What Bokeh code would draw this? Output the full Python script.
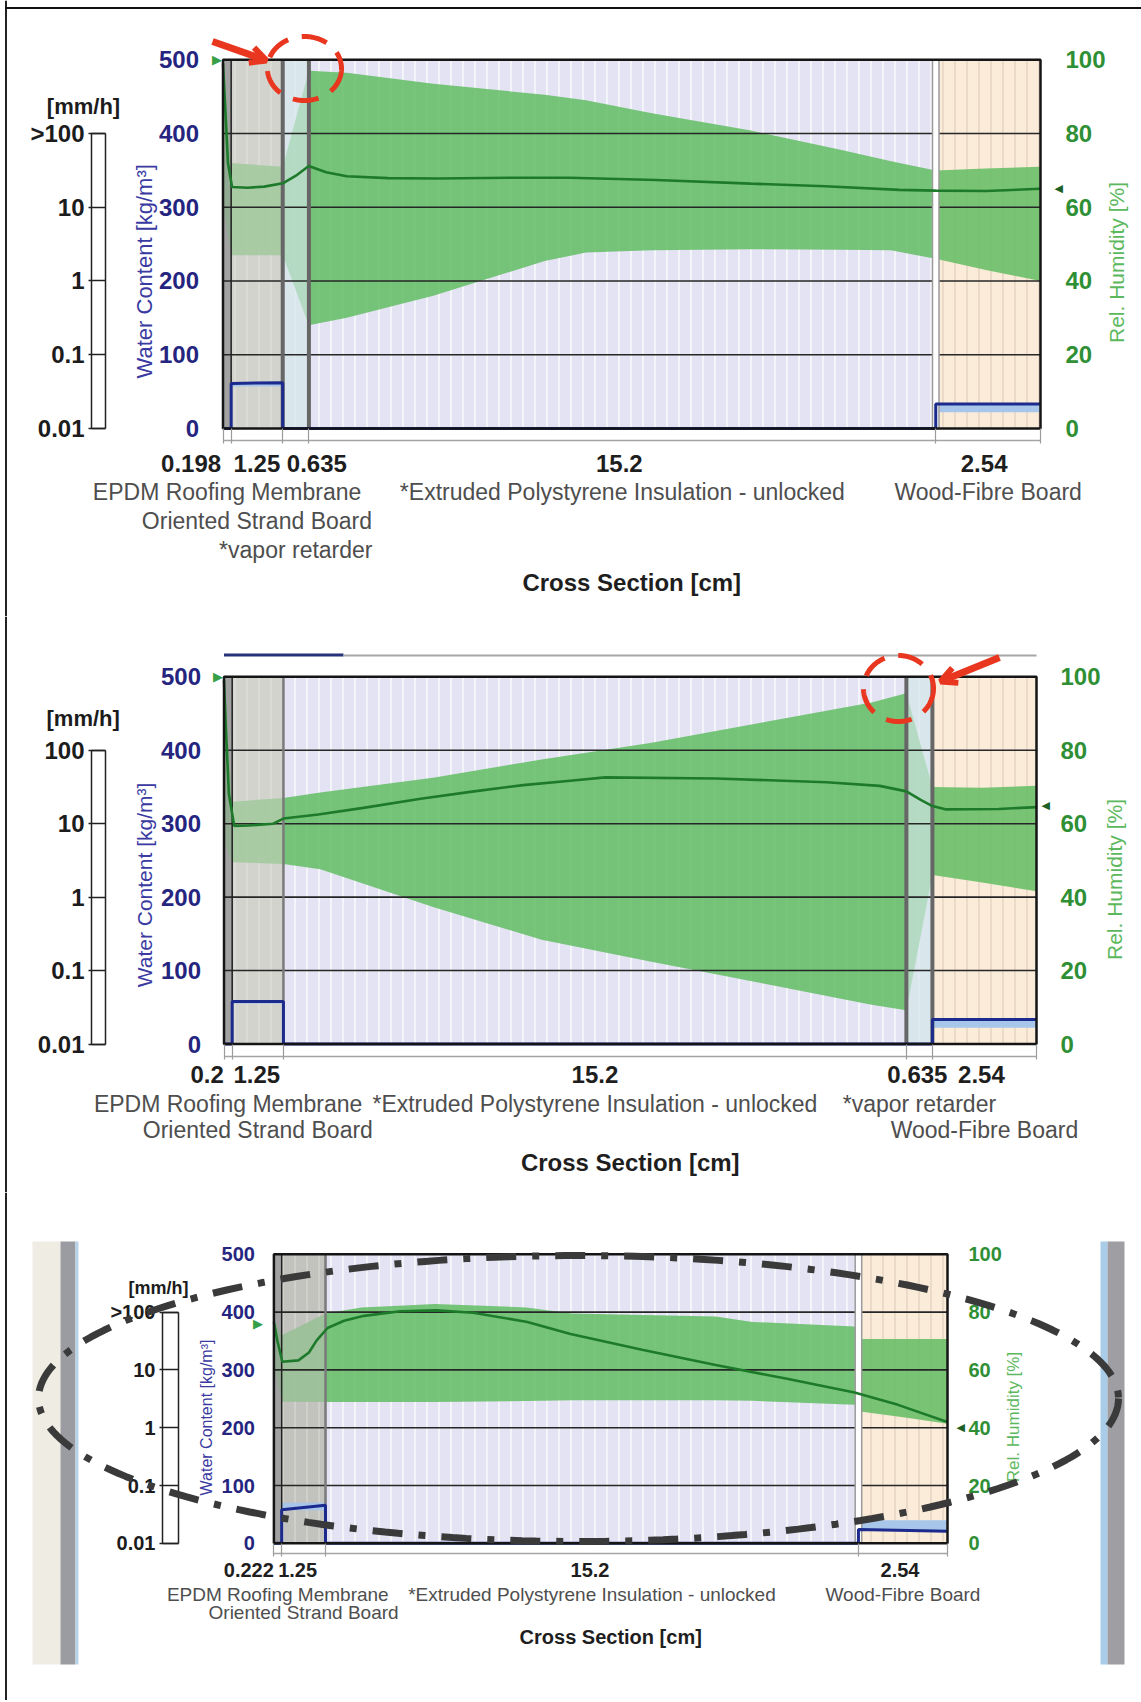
import numpy as np
from bokeh.plotting import figure
from bokeh.layouts import column
from bokeh.models import (Range1d, LinearAxis, LogAxis, LogScale, FixedTicker, Label,
                          Arrow, OpenHead, PolyAnnotation, BoxAnnotation, ColumnDataSource)
from bokeh.core.properties import field
from bokeh.embed import file_html
from bokeh.resources import INLINE

FONT = "Liberation Sans"
SYM_FONT = "DejaVu Sans"

# ---------------- shared axis ticks ----------------
wc_ticks = [0, 100, 200, 300, 400, 500]
rh_ticks = [0, 20, 40, 60, 80, 100]
rain_ticks = [0.01, 0.1, 1, 10, 100]

# ---------------- chart 1 data ----------------
c1_kinds = ["epdm", "osb", "vr", "xps", "wf"]
c1_names = ["EPDM Roofing Membrane", "Oriented Strand Board", "*vapor retarder",
            "*Extruded Polystyrene Insulation - unlocked", "Wood-Fibre Board"]
c1_thick = [0.198, 1.25, 0.635, 15.2, 2.54]
c1_thick_lbl = ["0.198", "1.25", "0.635", "15.2", "2.54"]
c1_rain_lbl = ["0.01", "0.1", "1", "10", ">100"]
c1_rh_x = [0.0, 0.05, 0.12, 0.22, 0.6, 1.0, 1.45, 1.8, 2.08, 2.5, 3.0, 4.0, 5.2, 7.0, 8.4,
           10.5, 12.8, 14.6, 16.4, 17.28, 18.5, 19.82]
c1_rh_mean = [99, 88, 72, 65.5, 65.3, 65.6, 66.5, 68.8, 71.2, 69.5, 68.4, 67.9, 67.8, 68.0, 68.0,
              67.4, 66.4, 65.7, 64.7, 64.5, 64.4, 65.0]
c1_band_x = [0.0, 0.2, 1.45, 2.08, 3.0, 5.1, 7.8, 8.8, 10.4, 12.8, 15.0, 16.2, 17.28, 18.5, 19.82]
c1_band_hi = [100, 72, 71, 97, 96.5, 93.5, 90.5, 89, 85.5, 80.8, 75.5, 72.5, 70, 70.5, 71]
c1_band_lo = [60, 47, 47, 28, 30, 36, 45.4, 47.7, 48.3, 48.6, 48.5, 48.3, 46, 43, 40]
c1_wc_start = [0, 61, 0, 0, 33]
c1_wc_end = [0, 62, 0, 0, 33]
c1_wc_lo = [0, 57, 0, 0, 22]
c1_wc_hi = [0, 63, 0, 0, 33]
c1_rh_ext, c1_rh_int = 100, 65

# ---------------- chart 2 data ----------------
c2_kinds = ["epdm", "osb", "xps", "vr", "wf"]
c2_names = ["EPDM Roofing Membrane", "Oriented Strand Board",
            "*Extruded Polystyrene Insulation - unlocked", "*vapor retarder", "Wood-Fibre Board"]
c2_thick = [0.2, 1.25, 15.2, 0.635, 2.54]
c2_thick_lbl = ["0.2", "1.25", "15.2", "0.635", "2.54"]
c2_rain_lbl = ["0.01", "0.1", "1", "10", "100"]
c2_rh_x = [0.0, 0.05, 0.12, 0.25, 0.6, 1.2, 1.45, 2.3, 3.4, 4.8, 6.1, 7.3, 8.45, 9.3, 12.0,
           14.7, 16.0, 16.65, 17.0, 17.285, 17.6, 18.9, 19.825]
c2_rh_mean = [99, 85, 68, 59.4, 59.5, 60.0, 61.4, 62.5, 64.3, 66.8, 68.8, 70.5, 71.7, 72.6, 72.3,
              71.3, 70.3, 68.8, 66.5, 64.8, 63.9, 64.0, 64.5]
c2_band_x = [0.0, 0.2, 1.45, 2.35, 5.1, 7.75, 10.4, 13.1, 15.8, 16.65, 17.285, 18.5, 19.825]
c2_band_hi = [100, 66, 67, 68.5, 72.5, 77.5, 82, 87.5, 93, 95.5, 70, 69.8, 70.3]
c2_band_lo = [55, 49.5, 49, 47.6, 37.3, 28.4, 22.5, 16.6, 10.7, 9.2, 46, 44, 41.6]
c2_wc_start = [0, 58, 0, 0, 33.5]
c2_wc_end = [0, 58, 0, 0, 33.5]
c2_wc_lo = [0, 55, 0, 0, 22]
c2_wc_hi = [0, 60, 0, 0, 34]
c2_rh_ext, c2_rh_int = 100, 65

# ---------------- chart 3 data ----------------
c3_kinds = ["epdm", "osb", "xps", "wf"]
c3_names = ["EPDM Roofing Membrane", "Oriented Strand Board",
            "*Extruded Polystyrene Insulation - unlocked", "Wood-Fibre Board"]
c3_thick = [0.222, 1.25, 15.2, 2.54]
c3_thick_lbl = ["0.222", "1.25", "15.2", "2.54"]
c3_rain_lbl = ["0.01", "0.1", "1", "10", ">100"]
c3_rh_x = [0.0, 0.1, 0.24, 0.7, 1.0, 1.22, 1.53, 2.0, 2.57, 3.61, 4.64, 5.68, 7.23, 8.46, 10.5,
           12.6, 14.6, 16.56, 17.8, 19.21]
c3_rh_mean = [76.6, 70, 62.8, 63.3, 66, 70.2, 74.5, 77, 78.7, 80.3, 80.6, 79.8, 76.6, 72.4, 67,
              61.7, 57, 52.2, 47.9, 42]
c3_band_x = [0.0, 0.222, 1.472, 2.5, 4.6, 7.2, 8.5, 12.6, 13.65, 16.56, 16.672, 18.0, 19.212]
c3_band_hi = [77, 72, 79.5, 81.6, 82.8, 81.6, 79.5, 78.5, 76.6, 75, 70.7, 70.7, 70.7]
c3_band_lo = [62, 49, 48.9, 48.9, 48.9, 49.2, 49.5, 49.5, 49.3, 47.9, 45.7, 43.5, 41.4]
c3_wc_start = [0, 58, 0, 24]
c3_wc_end = [0, 66, 0, 21]
c3_wc_lo = [0, 57, 0, 22]
c3_wc_hi = [0, 70, 0, 40]
c3_rh_ext, c3_rh_int = 76, 40

# ---------------- styles ----------------
COL = {"epdm": "#a2a2a2", "osb": "#d3d3ce", "vr": "#d9e7ec", "xps": "#e3e3f3", "wf": "#fbebd9"}
HATCH = {"epdm": "#8e8e8e", "osb": "#ebebe8", "vr": "#eef5f8", "xps": "#fbfbff", "wf": "#e6d3c2"}
OVER = {"epdm": 0.7, "osb": 0.55, "vr": 0.65}
BAND_GREEN = "#62bd62"
LINE_GREEN = "#1d7a2b"
NAVY = "#25257f"
WC_LINE = "#1b2a8c"
RED = "#e8361f"
PAGE_W = 1141


def boundary_style(a, b):
    pair = {a, b}
    if pair == {"xps", "wf"}:
        return ("gap", "#9a9a9a", 8)
    if "vr" in pair:
        return ("line", "#666666", 4)
    if pair == {"epdm", "osb"}:
        return ("line", "#202020", 1.5)
    return ("line", "#7a7a7a", 2.5)


def build(d, g):
    kinds = d["kinds"]
    thick = np.array(d["thick"], dtype=float)
    edges = np.concatenate([[0.0], np.cumsum(thick)])
    total = float(edges[-1])
    centers = (edges[:-1] + edges[1:]) / 2
    FL, FT, fw, fh = g["fl"], g["ft"], g["fw"], g["fh"]
    sx, sy = fw / total, fh / 500.0

    def X(px):          # page pixel -> cross-section cm
        return (px - FL) / sx

    def Y(py):          # page pixel -> water content units
        return (FT + fh - py) / sy

    top, bot = g["top"], g["bot"]
    y0, y1 = Y(bot), Y(top)
    p = figure(width=PAGE_W, height=bot - top, min_border=0,
               x_range=Range1d(X(0), X(PAGE_W)), y_range=Range1d(y0, y1),
               x_axis_location=None, y_axis_location=None,
               output_backend="svg", toolbar_location=None,
               background_fill_color="white", border_fill_color="white", outline_line_color=None)
    p.extra_y_ranges = {"rh": Range1d(y0 / 5.0, y1 / 5.0),
                        "rain": Range1d(10 ** (y0 / 100.0 - 2), 10 ** (y1 / 100.0 - 2))}
    p.extra_y_scales = {"rain": LogScale()}
    p.xgrid.visible = False
    p.ygrid.visible = False

    # screenshot-frame decorations behind the chart
    for (xa, xb, ya, yb, col) in g.get("boxes", []):
        p.quad(left=X(xa), right=X(xb), top=Y(ya), bottom=Y(yb), fill_color=col, line_color=None)

    # layer backgrounds
    lay = ColumnDataSource(dict(left=edges[:-1], right=edges[1:],
                                fill=[g.get("col", {}).get(k, COL[k]) for k in kinds],
                                hatch=[HATCH[k] for k in kinds],
                                pat=[" " if k == "epdm" else "|" for k in kinds]))
    p.quad(left="left", right="right", bottom=0, top=500, source=lay,
           fill_color=field("fill"), line_color=None, hatch_pattern=field("pat"),
           hatch_color=field("hatch"), hatch_scale=12, hatch_weight=1.4)

    # RH min/max band
    p.varea(x=d["band_x"], y1=d["band_lo"], y2=d["band_hi"], y_range_name="rh",
            fill_color=BAND_GREEN, fill_alpha=0.85)

    # translucent overlay for thin layers
    ov = [i for i, k in enumerate(kinds) if k in OVER]
    p.quad(left=[edges[i] for i in ov], right=[edges[i + 1] for i in ov], bottom=0, top=500,
           fill_color=[g.get("col", {}).get(kinds[i], COL[kinds[i]]) for i in ov],
           fill_alpha=[OVER[kinds[i]] for i in ov], line_color=None)

    # water content range
    p.quad(left=edges[:-1], right=edges[1:], bottom=d["wc_lo"], top=d["wc_hi"],
           fill_color="#a8c6ea", line_color=None)

    # horizontal grid lines
    gl = [t for t in wc_ticks if 0 < t < 500]
    p.segment(x0=0, y0=gl, x1=total, y1=gl, line_color="#262626", line_width=1.6)

    # layer boundaries
    bx, bcol, bw, gx = [], [], [], []
    for i in range(1, len(kinds)):
        kind, col, w = boundary_style(kinds[i - 1], kinds[i])
        bx.append(edges[i]); bcol.append(col); bw.append(w)
        if kind == "gap":
            gx.append(edges[i])
    p.segment(x0=bx, y0=0, x1=bx, y1=500, line_color=bcol, line_width=bw)
    if gx:
        p.segment(x0=gx, y0=0, x1=gx, y1=500, line_color="white", line_width=5)

    # water content line (per layer)
    wx, wy = [], []
    for i in range(len(kinds)):
        wx += [edges[i], edges[i + 1]]
        wy += [d["wc_start"][i], d["wc_end"][i]]
    p.line(wx, wy, line_color=WC_LINE, line_width=3)

    # RH line
    p.line(d["rh_x"], d["rh_mean"], y_range_name="rh", line_color=LINE_GREEN, line_width=2.6)

    # plot area frame
    p.quad(left=0, right=total, bottom=0, top=500, fill_color=None, line_color="#151515",
           line_width=2.5)

    # water-content axis (left)
    wa = LinearAxis(fixed_location=0, bounds=(0, 500), ticker=FixedTicker(ticks=wc_ticks),
                    axis_line_color=None, major_tick_line_color=None, minor_tick_line_color=None,
                    major_tick_out=0, major_tick_in=0, major_label_standoff=g["wc_so"],
                    major_label_text_font=FONT, major_label_text_font_size=f'{g["fs_tick"]}px',
                    major_label_text_font_style="bold", major_label_text_color=NAVY)
    p.add_layout(wa, "left")

    # relative-humidity axis (right)
    ra = LinearAxis(y_range_name="rh", fixed_location=total, bounds=(0, 100),
                    ticker=FixedTicker(ticks=rh_ticks), axis_line_color=None,
                    major_tick_line_color=None, minor_tick_line_color=None,
                    major_tick_out=0, major_tick_in=0, major_label_standoff=g["rh_so"],
                    major_label_text_font=FONT, major_label_text_font_size=f'{g["fs_tick"]}px',
                    major_label_text_font_style="bold", major_label_text_color="#2f8f35")
    p.add_layout(ra, "right")

    # rain scale [mm/h]: left edge with labelled log ticks + right edge
    rl, rr = g["rain_x"]
    rw = int(round(rr - rl))
    rain = LogAxis(y_range_name="rain", fixed_location=X(rl), bounds=(0.01, 100),
                   ticker=FixedTicker(ticks=rain_ticks),
                   major_label_overrides=dict(zip(rain_ticks, d["rain_lbl"])),
                   major_tick_out=3, major_tick_in=rw, axis_line_color="#222222",
                   axis_line_width=1.5, major_tick_line_color="#222222", major_tick_line_width=1.5,
                   minor_tick_line_color=None, major_label_standoff=4, major_label_text_font=FONT,
                   major_label_text_font_size=f'{g["fs_tick"]}px', major_label_text_font_style="bold",
                   major_label_text_color="#1c1c1c")
    p.add_layout(rain, "left")
    edge = LinearAxis(y_range_name="rain", fixed_location=X(rr), bounds=(0.01, 100),
                      ticker=FixedTicker(ticks=[0.01, 100]), major_tick_out=rw, major_tick_in=0,
                      axis_line_color="#222222", axis_line_width=1.5,
                      major_tick_line_color="#222222", major_tick_line_width=1.5,
                      minor_tick_line_color=None, major_label_text_color=None)
    p.add_layout(edge, "left")

    # cross-section dimension line with ticks at layer boundaries
    dim = LinearAxis(fixed_location=Y(FT + fh + g["dim"]), bounds=(0, total),
                     ticker=FixedTicker(ticks=list(edges)), major_tick_in=int(g["dim"]),
                     major_tick_out=3, axis_line_color="#a4a4a4", axis_line_width=1.5,
                     major_tick_line_color="#9c9c9c", major_tick_line_width=1.2,
                     minor_tick_line_color=None, major_label_text_color=None)
    p.add_layout(dim, "below")

    def text(x, y, s, size, color, bold=False, align="center", xo=0, angle=0.0, font=FONT,
             yname="default"):
        p.add_layout(Label(x=x, y=y, text=s, x_offset=xo, text_align=align, text_baseline="middle",
                           text_font=font, text_font_size=f"{size}px",
                           text_font_style="bold" if bold else "normal", text_color=color,
                           angle=angle, y_range_name=yname))

    # axis titles
    text(X(g["mmh"][0]), Y(g["mmh"][1]), "[mm/h]", g["fs_tick"] - 2, "#1c1c1c", bold=True)
    text(X(g["wct"][0]), Y(g["wct"][1]), "Water Content [kg/m³]", g["fs_wct"], "#3a3aa2",
         angle=np.pi / 2)
    text(X(g["rht"][0]), Y(g["rht"][1]), "Rel. Humidity [%]", g["fs_rht"], "#5cb85c",
         angle=np.pi / 2)
    text(total / 2, Y(g["y_cs"]), "Cross Section [cm]", g["fs_num"], "#1e1e1e", bold=True)

    # layer thickness numbers and layer names
    for i in range(len(kinds)):
        text(centers[i], Y(g["y_num"]), d["thick_lbl"][i], g["fs_num"], "#1e1e1e", bold=True,
             xo=d["num_off"][i])
        text(centers[i], Y(g["y_names"][d["rows"][i]]), d["names"][i], g["fs_name"], "#4e4e4e")

    # boundary RH markers
    text(0, d["rh_ext"], "▶", 13, "#35a045", align="right", xo=g["mk_l"], font=SYM_FONT, yname="rh")
    text(total, d["rh_int"], "◀", 11, "#1d5f25", align="left", xo=g["mk_r"], font=SYM_FONT,
         yname="rh")

    # ---- decorations: page border and hand-drawn markup ----
    p.add_layout(BoxAnnotation(left=X(4.5), right=X(6.5), bottom=Y(bot), top=Y(top),
                               fill_color="#222222", fill_alpha=1, line_color=None))
    if g.get("topline"):
        p.add_layout(BoxAnnotation(left=X(4.5), right=X(PAGE_W), bottom=Y(8.5), top=Y(6.5),
                                   fill_color="#111111", fill_alpha=1, line_color=None))
    for (xa, xb, ya, yb, col) in g.get("bars", []):
        p.add_layout(BoxAnnotation(left=X(xa), right=X(xb), top=Y(ya), bottom=Y(yb),
                                   fill_color=col, fill_alpha=1, line_color=None))
    t = np.linspace(0, 2 * np.pi, 241)
    for (cx, cy, rx, ry, col, lw, dash) in g.get("ellipses", []):
        p.add_layout(PolyAnnotation(xs=[X(v) for v in cx + rx * np.cos(t)],
                                    ys=[Y(v) for v in cy + ry * np.sin(t)],
                                    fill_color=None, fill_alpha=0, line_color=col, line_alpha=1,
                                    line_width=lw, line_dash=dash))
    for (xa, ya, xb, yb) in g.get("arrows", []):
        p.add_layout(Arrow(end=OpenHead(line_color=RED, line_width=6, size=16),
                           x_start=X(xa), y_start=Y(ya), x_end=X(xb), y_end=Y(yb),
                           line_color=RED, line_width=7))
    return p


d1 = dict(kinds=c1_kinds, names=c1_names, thick=c1_thick, thick_lbl=c1_thick_lbl, rain_lbl=c1_rain_lbl,
          rh_x=c1_rh_x, rh_mean=c1_rh_mean, band_x=c1_band_x, band_lo=c1_band_lo, band_hi=c1_band_hi,
          wc_start=c1_wc_start, wc_end=c1_wc_end, wc_lo=c1_wc_lo, wc_hi=c1_wc_hi,
          rh_ext=c1_rh_ext, rh_int=c1_rh_int, rows=[0, 1, 2, 0, 0], num_off=[-36, 0, 21, -3, -4])
g1 = dict(top=0, bot=616, fl=222.5, ft=59.3, fw=817.5, fh=368.6,
          fs_tick=24, fs_num=24, fs_name=23, fs_wct=22, fs_rht=21,
          wc_so=24, rh_so=25, rain_x=(91, 105), dim=12, mk_l=-1, mk_r=14,
          y_num=463, y_names=[491.8, 520.5, 549.2], y_cs=581.7,
          mmh=(83, 105.5), wct=(143.6, 270.8), rht=(1116, 262), topline=True,
          ellipses=[(304, 68, 37, 32, RED, 5, "26 14")],
          arrows=[(212, 41, 266, 60)])

d2 = dict(kinds=c2_kinds, names=c2_names, thick=c2_thick, thick_lbl=c2_thick_lbl, rain_lbl=c2_rain_lbl,
          rh_x=c2_rh_x, rh_mean=c2_rh_mean, band_x=c2_band_x, band_lo=c2_band_lo, band_hi=c2_band_hi,
          wc_start=c2_wc_start, wc_end=c2_wc_end, wc_lo=c2_wc_lo, wc_hi=c2_wc_hi,
          rh_ext=c2_rh_ext, rh_int=c2_rh_int, rows=[0, 1, 0, 0, 1], num_off=[-21, -1, 0, -2, -3])
g2 = dict(top=616, bot=1192, fl=223.5, ft=676.3, fw=812.5, fh=367.2,
          fs_tick=24, fs_num=24, fs_name=23, fs_wct=21, fs_rht=21,
          wc_so=23, rh_so=24, rain_x=(91, 105), dim=12, mk_l=-1, mk_r=5,
          y_num=1074.4, y_names=[1103.5, 1129], y_cs=1161.6,
          mmh=(82.7, 718), wct=(143.6, 884.5), rht=(1113.5, 879),
          bars=[(223.5, 343, 653, 656, "#27307a"), (343, 1036, 654, 656, "#a6a6a6")],
          ellipses=[(898, 688, 35, 33, RED, 5, "26 14")],
          arrows=[(999, 657, 940, 681)])

d3 = dict(kinds=c3_kinds, names=c3_names, thick=c3_thick, thick_lbl=c3_thick_lbl, rain_lbl=c3_rain_lbl,
          rh_x=c3_rh_x, rh_mean=c3_rh_mean, band_x=c3_band_x, band_lo=c3_band_lo, band_hi=c3_band_hi,
          wc_start=c3_wc_start, wc_end=c3_wc_end, wc_lo=c3_wc_lo, wc_hi=c3_wc_hi,
          rh_ext=c3_rh_ext, rh_int=c3_rh_int, rows=[0, 1, 0, 0], num_off=[-29, -6, -2, -3])
g3 = dict(top=1192, bot=1700, fl=273.4, ft=1253.8, fw=673.6, fh=289.0,
          fs_tick=20, fs_num=20, fs_name=19, fs_wct=16, fs_rht=17,
          wc_so=19, rh_so=21, rain_x=(162, 178), dim=10, mk_l=-11, mk_r=9,
          y_num=1569, y_names=[1593.5, 1612], y_cs=1636.5,
          mmh=(158, 1287.6), wct=(206, 1417), rht=(1012.5, 1416.5),
          col={"osb": "#c2c2be"},
          boxes=[(32, 60, 1241, 1664, "#efece3"), (60, 75, 1241, 1664, "#9b9ca1"),
                 (75, 78, 1241, 1664, "#b6d3ea"), (1100, 1107, 1241, 1664, "#a9cde8"),
                 (1107, 1124, 1241, 1664, "#9e9ea3")],
          ellipses=[(578, 1398, 540, 143, "#3a3a3a", 7, "30 16 7 16")],
          arrows=[])

p1 = build(d1, g1)
p2 = build(d2, g2)
p3 = build(d3, g3)

layout = column(p1, p2, p3)
open("out.html", "w").write(file_html(layout, INLINE, "WUFI cross sections"))
